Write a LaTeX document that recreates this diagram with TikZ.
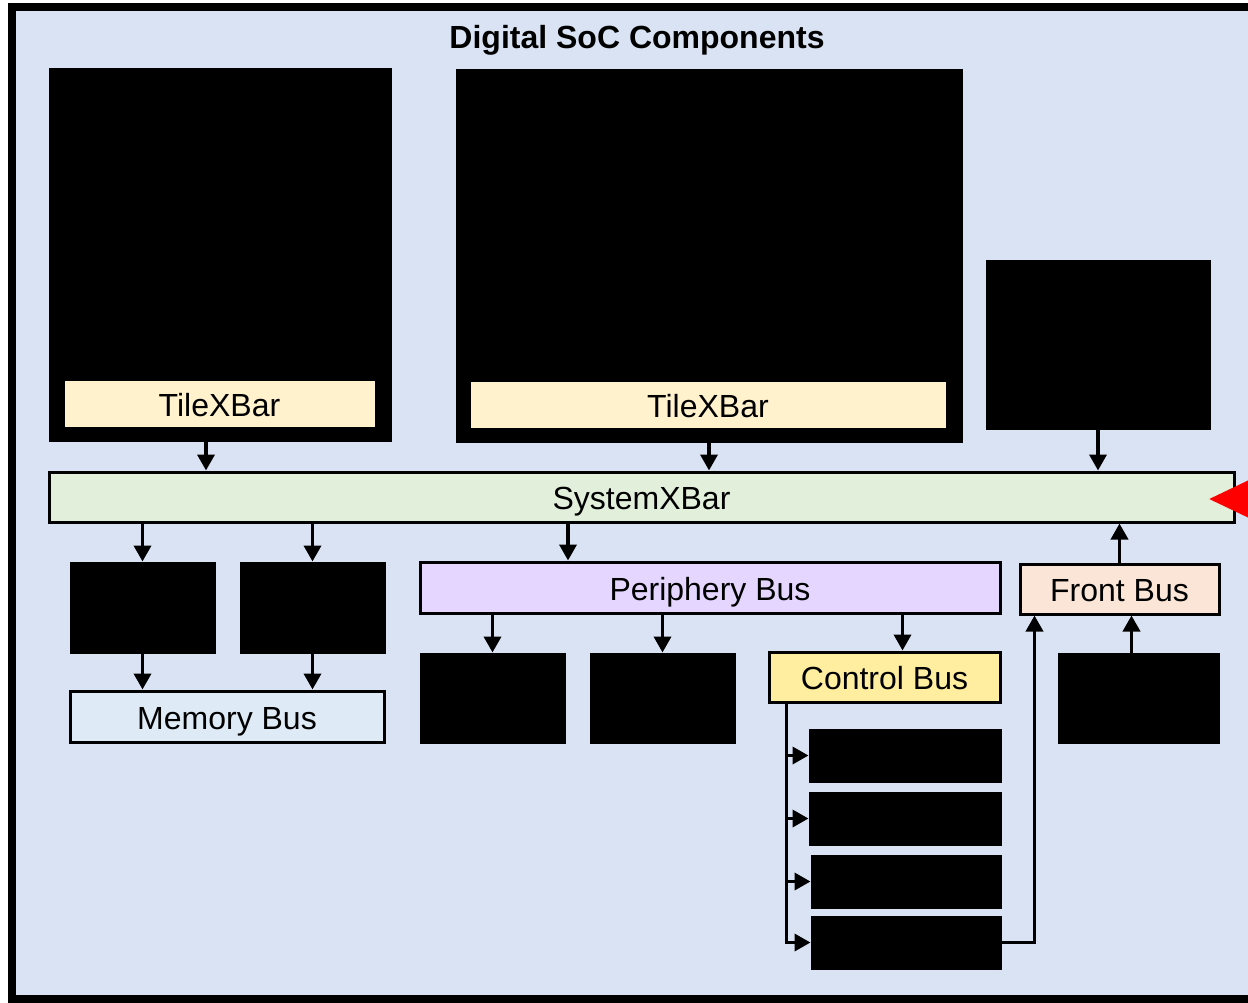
\documentclass[tikz,border=0pt]{standalone}
\usepackage{fontspec}
\setmainfont{Liberation Sans}
\usetikzlibrary{fit,arrows.meta}

\definecolor{socbg}{HTML}{DAE3F3}
\definecolor{tilecol}{HTML}{FFF2CC}
\definecolor{syscol}{HTML}{E2EFDA}
\definecolor{memcol}{HTML}{DEEBF7}
\definecolor{percol}{HTML}{E5D6FF}
\definecolor{ctlcol}{HTML}{FFEDA0}
\definecolor{frontcol}{HTML}{FBE5D6}

\tikzset{
  bus/.style={draw=black, line width=1.5pt, inner sep=0pt},
  blk/.style={draw=black, fill=black, line width=0.5pt, inner sep=0pt},
  arr/.style={line width=1.8pt, -{Triangle[length=8pt,width=8.5pt]}},
  redarr/.style={draw=red, line width=3pt, -{Triangle[length=24pt,width=22pt]}, red},
  every label/.style={font=\fontsize{16}{19}\selectfont, inner sep=0pt,
    text height=11.5pt, text depth=0pt, yshift=-0.5pt}
}

\begin{document}
\begin{tikzpicture}[x=0.5pt,y=-0.5pt]
\useasboundingbox (0,0) rectangle (1248,1002);

% outline
\draw[line width=4pt, fill=socbg] (12,7) rectangle (1262,999);
\node[font=\bfseries\fontsize{16}{19}\selectfont] (title) at (637,40) {Digital SoC Components};

% tiles
\node[blk, fit={(49,68) (391,441)}] (tileA) {};
\node[bus, fill=tilecol, line width=0.5pt, fit={(64,380) (375,427)}, label=center:TileXBar] (tbarA) {};
\node[blk, fit={(456,69) (962,442)}] (tileB) {};
\node[bus, fill=tilecol, line width=0.5pt, fit={(470,381) (946,428)}, label=center:TileXBar] (tbarB) {};
\node[blk, fit={(986,260) (1210,429)}] (accel) {};

% system crossbar
\node[bus, fill=syscol, fit={(49,472) (1234,522)}, label=center:SystemXBar] (sysxbar) {};

% memory side
\node[blk, fit={(70,562) (215,653)}] (memA) {};
\node[blk, fit={(240,562) (385,653)}] (memB) {};
\node[bus, fill=memcol, fit={(70,691) (384,742)}, label=center:Memory Bus] (membus) {};

% periphery side
\node[bus, fill=percol, fit={(420,562) (1000,613)}, label=center:Periphery Bus] (pbus) {};
\node[blk, fit={(420,653) (565,743)}] (perA) {};
\node[blk, fit={(590,653) (735,743)}] (perB) {};
\node[bus, fill=ctlcol, fit={(769,652) (1000,702)}, label=center:Control Bus] (cbus) {};
\node[blk, fit={(809,729) (1001,782)}] (ctlA) {};
\node[blk, fit={(809,792) (1001,845)}] (ctlB) {};
\node[blk, fit={(811,855) (1001,908)}] (ctlC) {};
\node[blk, fit={(811,916) (1001,969)}] (ctlD) {};

% front side
\node[bus, fill=frontcol, fit={(1020,564) (1219,614)}, label=center:Front Bus] (fbus) {};
\node[blk, fit={(1058,653) (1219,743)}] (dbg) {};

% connections
\draw[arr] ([xshift=-7pt]tileA.south) -- ([xshift=-7pt]tileA.south |- sysxbar.north);
\draw[arr] (tileB.south) -- (tileB.south |- sysxbar.north);
\draw[arr] (accel.south) -- (accel.south |- sysxbar.north);
\draw[arr] (memA.north |- sysxbar.south) -- (memA.north);
\draw[arr] (memB.north |- sysxbar.south) -- (memB.north);
\draw[arr] (memA.south) -- (memA.south |- membus.north);
\draw[arr] (memB.south) -- (memB.south |- membus.north);
\draw[arr] ([xshift=-71pt]pbus.north |- sysxbar.south) -- ([xshift=-71pt]pbus.north);
\draw[arr] (perA.north |- pbus.south) -- (perA.north);
\draw[arr] (perB.north |- pbus.south) -- (perB.north);
\draw[arr] ([xshift=9pt]cbus.north |- pbus.south) -- ([xshift=9pt]cbus.north);
\coordinate (cbr) at ([xshift=9.5pt]cbus.south west);
\draw[arr] (cbr) |- (ctlA.west);
\draw[arr] (cbr) |- (ctlB.west);
\draw[arr] (cbr) |- (ctlC.west);
\draw[arr] (cbr) |- (ctlD.west);
\draw[arr] (ctlD.east) -| ([xshift=8pt]fbus.south west);
\draw[arr] ([xshift=-3.5pt]dbg.north) -- ([xshift=-3.5pt]dbg.north |- fbus.south);
\draw[arr] (fbus.north) -- (fbus.north |- sysxbar.south);

% external input
\coordinate (redsrc) at (1330,499);
\coordinate (redtip) at (1209,499);
\draw[redarr] (redsrc) -- (redtip);
\end{tikzpicture}
\end{document}
